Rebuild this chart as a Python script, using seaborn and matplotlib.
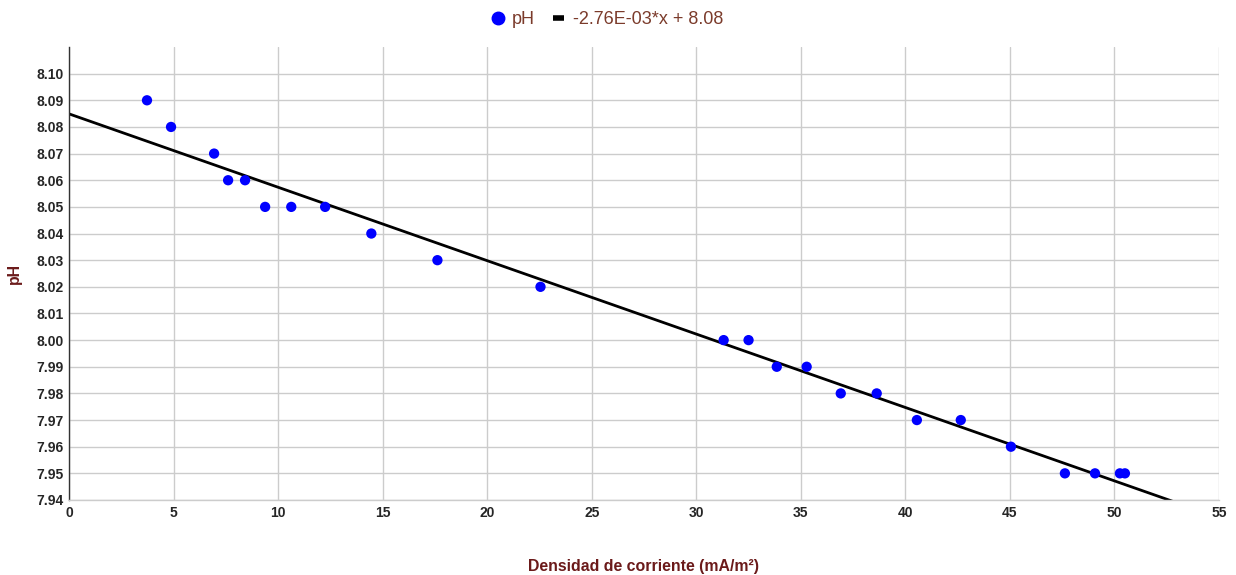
import numpy as np
import pandas as pd
import matplotlib
matplotlib.use("Agg")
import matplotlib.pyplot as plt
import seaborn as sns
from matplotlib.lines import Line2D

# --- datos ---
densidad = [3.73, 4.88, 6.94, 7.61, 8.42, 9.38, 10.63, 12.25, 14.46, 17.62,
            22.55, 31.31, 32.50, 33.85, 35.28, 36.91, 38.63, 40.55, 42.65,
            45.05, 47.63, 49.07, 50.26, 50.50]
ph = [8.09, 8.08, 8.07, 8.06, 8.06, 8.05, 8.05, 8.05, 8.04, 8.03,
      8.02, 8.00, 8.00, 7.99, 7.99, 7.98, 7.98, 7.97, 7.97,
      7.96, 7.95, 7.95, 7.95, 7.95]
x_ticks = [0, 5, 10, 15, 20, 25, 30, 35, 40, 45, 50, 55]
y_ticks = [7.94, 7.95, 7.96, 7.97, 7.98, 7.99, 8.00, 8.01, 8.02, 8.03,
           8.04, 8.05, 8.06, 8.07, 8.08, 8.09, 8.10]
trend_label = "-2.76E-03*x + 8.08"

df = pd.DataFrame({"densidad": densidad, "pH": ph})

sns.set_style("whitegrid")
plt.rcParams["font.family"] = ["Liberation Sans", "DejaVu Sans"]

fig = plt.figure(figsize=(12.36, 5.75), dpi=100)
ax = fig.add_axes([69 / 1236, 1 - 500 / 575, (1219 - 69) / 1236, (500 - 47) / 575])
ax.set_xlim(0, 55)
ax.set_ylim(7.94, 8.11)

# linea de tendencia (ajuste lineal) + puntos
sns.regplot(data=df, x="densidad", y="pH", ax=ax, ci=None, truncate=False,
            scatter=False, line_kws={"color": "black", "lw": 2})
sns.scatterplot(data=df, x="densidad", y="pH", ax=ax, color="#0000ff",
                s=55, edgecolor="none", zorder=3)

ax.set_xticks(x_ticks)
ax.set_yticks(y_ticks)
ax.set_yticklabels([f"{v:.2f}" for v in y_ticks])
ax.tick_params(axis="both", length=0, labelsize=10, pad=4)
for lbl in ax.get_xticklabels() + ax.get_yticklabels():
    lbl.set_fontweight("bold")
ax.grid(True, color="#cccccc", lw=1)

for s in ["top", "right"]:
    ax.spines[s].set_visible(False)
ax.spines["left"].set_color("#333333")
ax.spines["left"].set_linewidth(1)
ax.spines["bottom"].set_color("#cccccc")
ax.spines["bottom"].set_linewidth(1)

ax.set_xlabel("Densidad de corriente (mA/m²)", fontsize=11.4, fontweight="bold",
              color="#6b1a1a")
ax.set_ylabel("pH", fontsize=11.4, fontweight="bold", color="#6b1a1a")
ax.xaxis.set_label_coords(0.5, (500 - 559) / 453)
ax.yaxis.set_label_coords((22 - 69) / 1150, 0.5)

handles = [
    Line2D([], [], marker="o", color="#0000ff", ls="none", markersize=9),
    Line2D([], [], color="black", lw=4, solid_capstyle="butt"),
]
fig.legend(handles, ["pH", trend_label], loc="center",
           bbox_to_anchor=(0.5 - 10 / 1236, 1 - 20 / 575),
           ncol=2, frameon=False, fontsize=13, handlelength=0.6, handletextpad=0.5,
           columnspacing=1.0, labelcolor="#7b3b2b")

fig.savefig("out.png", dpi=100)
